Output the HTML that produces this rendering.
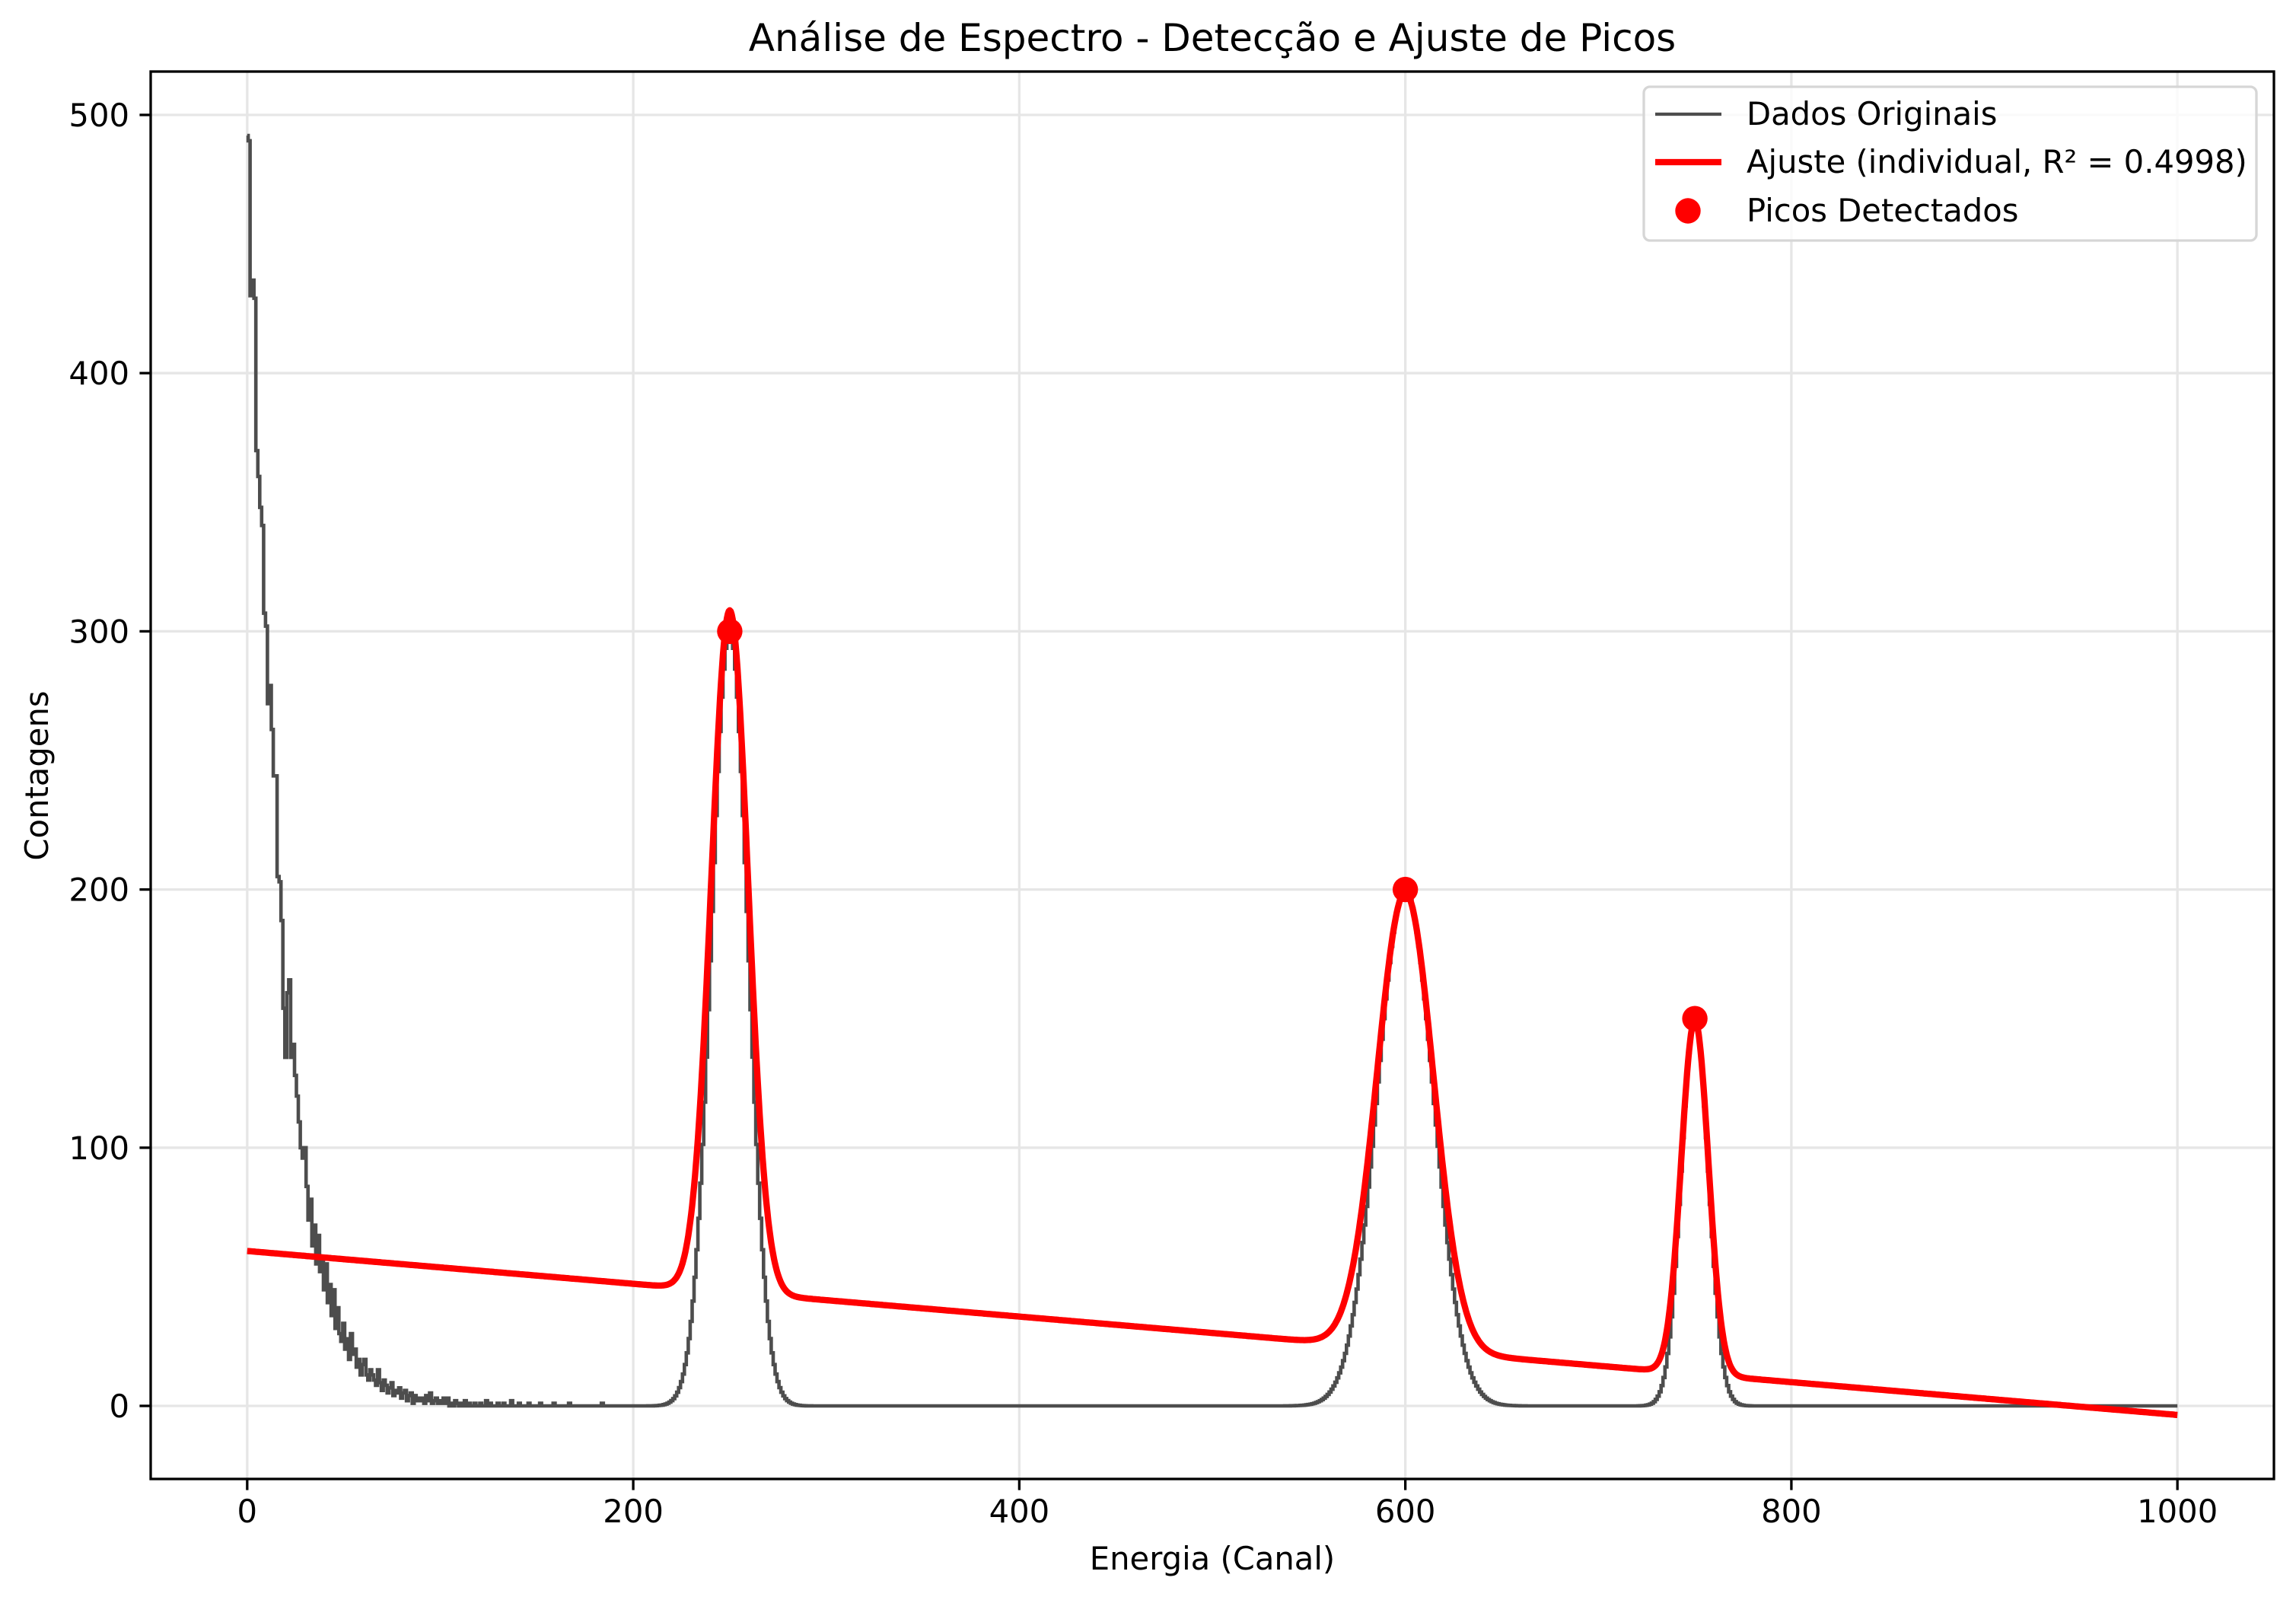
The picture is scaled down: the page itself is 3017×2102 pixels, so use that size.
<!DOCTYPE html>
<html><head><meta charset="utf-8"><style>
html,body{margin:0;padding:0;background:#fff;}
svg{display:block;font-family:"DejaVu Sans","Liberation Sans",sans-serif;}
</style></head><body>
<svg id="chart" width="3017" height="2102" viewBox="0 0 3017 2102" xmlns="http://www.w3.org/2000/svg">
<rect width="3017" height="2102" fill="#fff"/>
<g id="grid"></g>
<g id="series"></g>
<rect x="198" y="94" width="2790" height="1849" fill="none" stroke="#000" stroke-width="3.3"/>
<g id="ticks"></g>
<text x="1593" y="67" font-size="50" text-anchor="middle">Análise de Espectro - Detecção e Ajuste de Picos</text>
<text x="1593" y="2062" font-size="41.7" text-anchor="middle">Energia (Canal)</text>
<text x="0" y="0" font-size="41.7" text-anchor="middle" transform="translate(63,1019) rotate(-90)">Contagens</text>
<g>
<rect x="2160" y="114" width="805" height="202" rx="8" fill="#fff" fill-opacity="0.8" stroke="#d6d6d6" stroke-width="3.3"/>
<line x1="2175" y1="150" x2="2262" y2="150" stroke="#4d4d4d" stroke-width="4.2"/>
<text x="2295" y="164" font-size="41.7">Dados Originais</text>
<line x1="2175" y1="213" x2="2262" y2="213" stroke="#ff0000" stroke-width="8.3"/>
<text x="2295" y="227" font-size="41.7">Ajuste (individual, R² = 0.4998)</text>
<circle cx="2218" cy="277" r="16.7" fill="#ff0000"/>
<text x="2295" y="291" font-size="41.7">Picos Detectados</text>
</g>
</svg>
<script>
const lowCounts = [
492,490,430,436,429,370,360,348,341,307,
302,272,279,262,244,244,205,203,188,154,
135,160,165,135,140,128,120,110,100,96,
100,85,72,80,62,70,55,66,52,58,
45,55,40,47,35,45,30,38,28,25,
32,22,26,18,28,20,22,15,18,12,
16,18,12,10,14,12,10,8,14,9,
6,10,8,5,7,9,4,6,5,7,
3,5,6,2,4,5,1,4,2,3,
2,3,1,4,2,5,1,2,3,1,
2,1,3,1,3,0,1,0,2,1,
0,1,0,2,0,1,0,0,1,0,
0,1,0,0,2,0,1,0,0,0,
1,0,0,1,0,0,0,2,0,0,
0,1,0,0,0,0,1,0,0,0,
0,0,1,0,0,0,0,0,0,1,
0,0,0,0,0,0,0,1,0,0,
0,0,0,0,0,0,0,0,0,0,
0,0,0,0,1,0,0,0,0,0,
0,0,0,0,0,0,0,0,0,0];
const peakCenters = [250, 600, 750];
const peakHeights = [300, 200, 150];
const peakSigmas = [9.5, 14.5, 7];
const fitAmplitudes = [264, 177, 137];
const fitSigmas = [9.5, 14.5, 7];
const fitBackground = [60, -3.5];   // value at x=0, value at x=1000
const xTicks = [0, 200, 400, 600, 800, 1000];
const yTicks = [0, 100, 200, 300, 400, 500];
const nChannels = 1001;

const NS = 'http://www.w3.org/2000/svg';
const X0 = 198, X1 = 2988, Y0 = 94, Y1 = 1943;
const xmin = -50, xmax = 1050, ymin = -28.3, ymax = 516.8;
const sx = v => X0 + (v - xmin) / (xmax - xmin) * (X1 - X0);
const sy = v => Y1 - (v - ymin) / (ymax - ymin) * (Y1 - Y0);
function mk(tag, attrs, parent) { const e = document.createElementNS(NS, tag); for (const k in attrs) e.setAttribute(k, attrs[k]); parent.appendChild(e); return e; }

const grid = document.getElementById('grid');
const ticks = document.getElementById('ticks');
xTicks.forEach(t => {
  const g = mk('line', {x1: sx(t), x2: sx(t), y1: Y0, y2: Y1, stroke: '#e6e6e6', 'stroke-width': 3.3}, grid);
  
  
  const tk = mk('line', {x1: sx(t), x2: sx(t), y1: Y1, y2: Y1 + 14.6, stroke: '#000', 'stroke-width': 3.3}, ticks);
  
  
  const tl = mk('text', {x: sx(t), y: 2000, 'font-size': 41.7, 'text-anchor': 'middle'}, ticks);
  tl.textContent = t;
  
  
});
yTicks.forEach(t => {
  const g = mk('line', {x1: X0, x2: X1, y1: sy(t), y2: sy(t), stroke: '#e6e6e6', 'stroke-width': 3.3}, grid);
  
  
  const tk = mk('line', {x1: X0 - 14.6, x2: X0, y1: sy(t), y2: sy(t), stroke: '#000', 'stroke-width': 3.3}, ticks);
  
  
  const tl = mk('text', {x: 170, y: sy(t) + 15, 'font-size': 41.7, 'text-anchor': 'end'}, ticks);
  tl.textContent = t;
  
  
});

function dataAt(i) {
  let v = i < lowCounts.length ? lowCounts[i] : 0;
  for (let k = 0; k < peakCenters.length; k++) {
    v += peakHeights[k] * Math.exp(-0.5 * Math.pow((i - peakCenters[k]) / peakSigmas[k], 2));
  }
  return v;
}
const series = document.getElementById('series');
let d = '';
for (let i = 0; i < nChannels; i++) {
  const v = dataAt(i);
  const xl = sx(Math.max(0, i - 0.5)), xr = sx(Math.min(nChannels - 1, i + 0.5));
  d += (i === 0 ? 'M' : 'L') + xl.toFixed(1) + ',' + sy(v).toFixed(1) + 'L' + xr.toFixed(1) + ',' + sy(v).toFixed(1);
}
const dataPath = mk('path', {d: d, fill: 'none', stroke: '#4d4d4d', 'stroke-width': 4.6, 'stroke-linejoin': 'miter'}, series);



let fd = '';
for (let x = 0; x <= 1000; x += 0.5) {
  let v = fitBackground[0] + (fitBackground[1] - fitBackground[0]) * x / 1000;
  for (let k = 0; k < peakCenters.length; k++) {
    v += fitAmplitudes[k] * Math.exp(-0.5 * Math.pow((x - peakCenters[k]) / fitSigmas[k], 2));
  }
  fd += (x === 0 ? 'M' : 'L') + sx(x).toFixed(1) + ',' + sy(v).toFixed(1);
}
const fitPath = mk('path', {d: fd, fill: 'none', stroke: '#ff0000', 'stroke-width': 8.3, 'stroke-linejoin': 'round'}, series);



peakCenters.forEach((c, k) => {
  const m = mk('circle', {cx: sx(c), cy: sy(peakHeights[k]), r: 16.7, fill: '#ff0000'}, series);
  
  
});
</script>
</body></html>
